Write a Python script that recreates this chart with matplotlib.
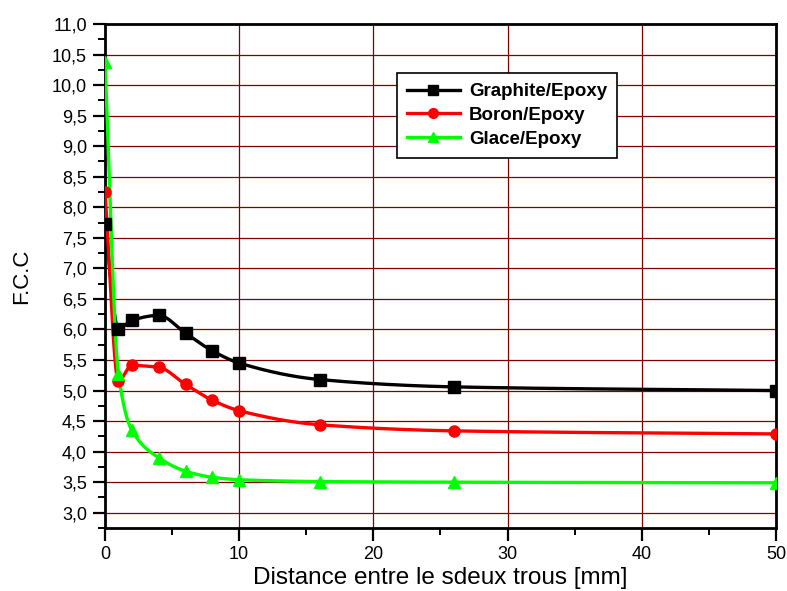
import numpy as np
import matplotlib
matplotlib.use("Agg")
import matplotlib.pyplot as plt
from matplotlib.ticker import MultipleLocator, FuncFormatter

plt.rcParams['font.family'] = ['Liberation Sans', 'DejaVu Sans']

# distances entre les deux trous [mm]
distance = [0, 1, 2, 4, 6, 8, 10, 16, 26, 50]

# facteur de concentration de contrainte
graphite_epoxy = [7.72, 6.01, 6.15, 6.23, 5.94, 5.65, 5.45, 5.18, 5.06, 5.00]
boron_epoxy = [8.25, 5.16, 5.41, 5.38, 5.10, 4.84, 4.67, 4.44, 4.34, 4.29]
glace_epoxy = [10.38, 5.27, 4.35, 3.90, 3.68, 3.58, 3.54, 3.51, 3.50, 3.49]

labels = ["Graphite/Epoxy", "Boron/Epoxy", "Glace/Epoxy"]
colors = ["#000000", "#ff0000", "#00ff00"]
markers = ["s", "o", "^"]


def pchip(x, y, xs):
    # courbe lissée monotone (Fritsch-Carlson) passant par les points
    x = np.asarray(x, float)
    y = np.asarray(y, float)
    h = np.diff(x)
    d = np.diff(y) / h
    n = len(x)
    m = np.zeros(n)
    for k in range(1, n - 1):
        if d[k - 1] * d[k] > 0:
            w1 = 2 * h[k] + h[k - 1]
            w2 = h[k] + 2 * h[k - 1]
            m[k] = (w1 + w2) / (w1 / d[k - 1] + w2 / d[k])
    m[0] = d[0]
    m[-1] = d[-1]
    idx = np.clip(np.searchsorted(x, xs) - 1, 0, n - 2)
    t = (xs - x[idx]) / h[idx]
    h00 = 2 * t**3 - 3 * t**2 + 1
    h10 = t**3 - 2 * t**2 + t
    h01 = -2 * t**3 + 3 * t**2
    h11 = t**3 - t**2
    return (h00 * y[idx] + h10 * h[idx] * m[idx]
            + h01 * y[idx + 1] + h11 * h[idx] * m[idx + 1])


fig = plt.figure(figsize=(7.87, 5.91), dpi=100)
ax = fig.add_axes([0.1334, 0.1066, 0.8526, 0.8528])

xs = np.linspace(distance[0], distance[-1], 2000)
for vals, label, color, mk in zip([graphite_epoxy, boron_epoxy, glace_epoxy],
                                  labels, colors, markers):
    ax.plot(xs, pchip(distance, vals, xs), color=color, lw=2.4, zorder=3)
    ax.plot(distance, vals, linestyle='none', marker=mk, color=color,
            markersize=8 if mk != "^" else 9, zorder=4)
    ax.plot([], [], color=color, lw=2.4, marker=mk, markersize=7, label=label)

ax.set_xlim(0, 50)
ax.set_ylim(2.75, 11.0)
ax.xaxis.set_major_locator(MultipleLocator(10))
ax.xaxis.set_minor_locator(MultipleLocator(5))
ax.yaxis.set_major_locator(MultipleLocator(0.5))
ax.yaxis.set_minor_locator(MultipleLocator(0.25))
ax.yaxis.set_major_formatter(FuncFormatter(lambda v, p: f"{v:.1f}".replace(".", ",")))

ax.grid(True, which='major', color='#800000', lw=0.9, zorder=1)
ax.set_axisbelow(True)

ax.tick_params(which='major', direction='out', length=9, width=1.6,
               labelsize=13, pad=4)
ax.tick_params(which='minor', direction='out', length=5, width=1.4)
for s in ax.spines.values():
    s.set_linewidth(2)

ax.set_xlabel("Distance entre le sdeux trous [mm]", fontsize=17.5, labelpad=3)
ax.set_ylabel("F.C.C", fontsize=16, labelpad=14)

leg = ax.legend(loc='upper left', bbox_to_anchor=(0.435, 0.903), frameon=True,
                fancybox=False, edgecolor='black', framealpha=1,
                prop={'weight': 'bold', 'size': 13.5}, handlelength=2.8,
                labelspacing=0.35, borderpad=0.55, borderaxespad=0,
                handletextpad=0.5)
leg.get_frame().set_linewidth(1.2)

fig.savefig("out.png", dpi=100)
